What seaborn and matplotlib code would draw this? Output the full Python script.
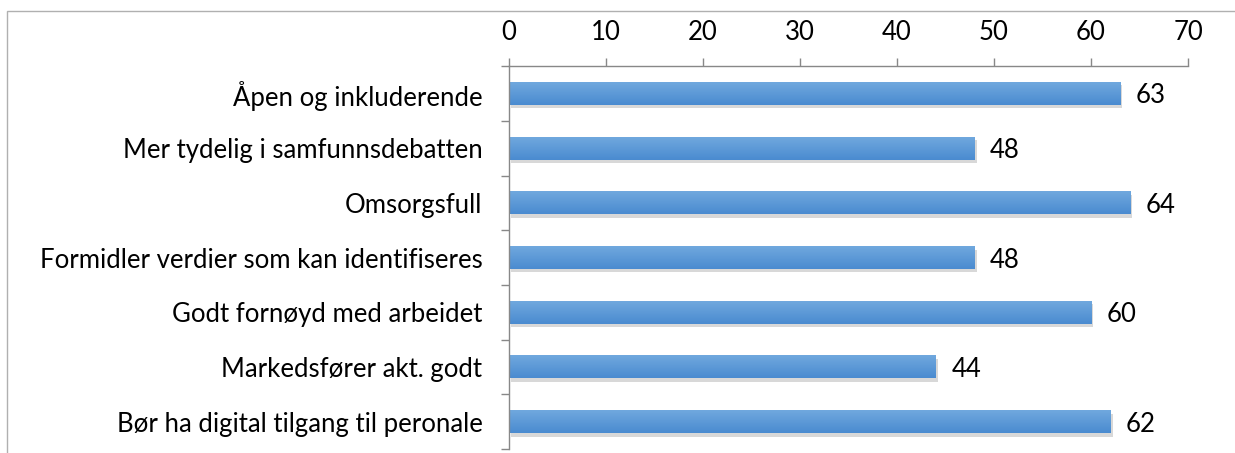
import numpy as np
import matplotlib
matplotlib.use("Agg")
import matplotlib.pyplot as plt
import matplotlib.patheffects as pe
import seaborn as sns
import pandas as pd

categories = ["Åpen og inkluderende", "Mer tydelig i samfunnsdebatten", "Omsorgsfull",
              "Formidler verdier som kan identifiseres", "Godt fornøyd med arbeidet",
              "Markedsfører akt. godt", "Bør ha digital tilgang til peronale"]
values = [63, 48, 64, 48, 60, 44, 62]
xticks = [0, 10, 20, 30, 40, 50, 60, 70]

sns.set_theme(style="white")
plt.rcParams["font.family"] = ["Lato", "DejaVu Sans"]
plt.rcParams["text.color"] = "black"
plt.rcParams["xtick.color"] = "black"
plt.rcParams["ytick.color"] = "black"
FS = 18.5

df = pd.DataFrame({"cat": categories, "val": values})
fig = plt.figure(figsize=(12.35, 4.53), dpi=100)
ax = fig.add_axes([0.412, 0.009, 0.55, 0.845])
sns.barplot(data=df, x="val", y="cat", orient="h", color="#5b9bd5", width=0.42,
            saturation=1, ax=ax, edgecolor="none")

# gradient + shadow
cmap = matplotlib.colors.LinearSegmentedColormap.from_list("g", ["#70a8de", "#4a8bd0"])
for p in list(ax.patches):
    p.set_path_effects([pe.SimplePatchShadow(offset=(1.5, -2.5), shadow_rgbFace="#7f7f7f", alpha=0.3), pe.Normal()])
    x0, y0 = p.get_x(), p.get_y()
    w, h = p.get_width(), p.get_height()
    grad = np.linspace(0, 1, 50).reshape(-1, 1)
    im = ax.imshow(grad, extent=[x0, x0 + w, y0 + h, y0], aspect="auto", cmap=cmap,
                   origin="upper", zorder=p.get_zorder() + 0.1)
    im.set_clip_path(p)

for i, v in enumerate(values):
    ax.text(v + 1.6, i, str(v), va="center_baseline", ha="left", fontsize=FS, color="black")

ax.set_xlim(0, 70)
ax.set_ylim(len(categories) - 0.5, -0.5)
ax.xaxis.tick_top()
ax.set_xticks(xticks)
ax.set_xticklabels([str(t) for t in xticks], fontsize=FS)
ax.set_yticks(np.arange(len(categories)))
ax.set_yticklabels(categories, fontsize=FS)
ax.set_yticks(np.arange(len(categories) + 1) - 0.5, minor=True)
ax.tick_params(axis="y", which="major", length=0, pad=19, left=False)
ax.tick_params(axis="y", which="minor", left=True, length=6, color="#888888", width=1, direction="out")
ax.tick_params(axis="x", top=True, length=6, color="#888888", width=1, direction="out", pad=9)
ax.set_xlabel("")
ax.set_ylabel("")
for s in ["right", "bottom"]:
    ax.spines[s].set_visible(False)
for s in ["top", "left"]:
    ax.spines[s].set_color("#888888")
    ax.spines[s].set_linewidth(1)

# figure border
fig.patches.append(matplotlib.patches.Rectangle((0.006, -0.01), 1.5, 0.985, transform=fig.transFigure,
                                                fill=False, edgecolor="#b0b0b0", linewidth=1))
fig.savefig("out.png", dpi=100)
